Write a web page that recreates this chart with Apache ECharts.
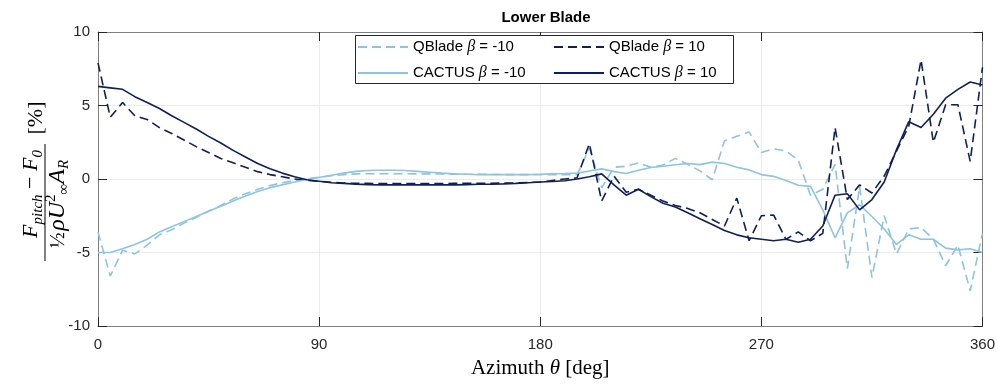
<!DOCTYPE html>
<html>
<head>
<meta charset="utf-8">
<script src="https://cdn.jsdelivr.net/npm/echarts@6/dist/echarts.min.js"></script>
<style>html,body{margin:0;padding:0;background:#fff;}#c{width:998px;height:384px;}</style>
</head>
<body>
<div id="c"></div>
<script>
var azimuth = [0,5,10,15,20,25,30,35,40,45,50,55,60,65,70,75,80,85,90,95,100,105,110,115,120,125,130,135,140,145,150,155,160,165,170,175,180,185,190,195,200,205,210,215,220,225,230,235,240,245,250,255,260,265,270,275,280,285,290,295,300,305,310,315,320,325,330,335,340,345,350,355,360];

var qbladeNeg10 = [-3.6,-6.6,-4.85,-5.1,-4.5,-3.8,-3.45,-3.0,-2.6,-2.2,-1.8,-1.35,-1.0,-0.7,-0.45,-0.25,-0.1,0.02,0.12,0.22,0.3,0.35,0.36,0.36,0.36,0.36,0.35,0.35,0.34,0.33,0.32,0.32,0.31,0.3,0.3,0.3,0.3,0.3,0.3,0.3,2.1,-0.6,0.8,0.87,1.1,0.8,0.95,1.4,1.0,0.55,-0.05,2.6,2.9,3.2,1.8,2.05,1.9,1.3,-1.1,-0.7,1.0,-6.1,-0.5,-6.7,-2.5,-5.1,-3.4,-3.3,-4.1,-5.9,-4.5,-7.6,-3.7];

var qblade10 = [7.9,4.2,5.2,4.3,4.05,3.5,3.1,2.65,2.2,1.8,1.4,1.1,0.8,0.5,0.3,0.15,0.0,-0.1,-0.15,-0.22,-0.27,-0.3,-0.3,-0.31,-0.31,-0.31,-0.31,-0.31,-0.31,-0.3,-0.3,-0.3,-0.29,-0.28,-0.27,-0.24,-0.2,-0.1,0.0,0.08,2.4,-1.5,0.2,-0.9,-0.7,-1.1,-1.5,-1.8,-2.0,-2.3,-2.75,-3.2,-1.3,-4.2,-2.5,-2.45,-4.1,-3.6,-4.2,-3.7,3.5,-1.4,-0.4,-0.95,0.2,1.9,3.6,8.1,2.5,5.05,5.05,1.2,7.6];

var cactusNeg10 = [-5.0,-5.0,-4.75,-4.45,-4.1,-3.6,-3.25,-2.9,-2.55,-2.2,-1.85,-1.5,-1.15,-0.85,-0.6,-0.4,-0.2,-0.03,0.1,0.25,0.4,0.52,0.58,0.6,0.6,0.58,0.52,0.46,0.4,0.35,0.32,0.3,0.3,0.3,0.3,0.3,0.32,0.35,0.37,0.4,0.55,0.69,0.5,0.37,0.6,0.78,0.87,0.97,1.05,0.98,1.15,1.05,0.8,0.62,0.3,0.18,-0.1,-0.42,-0.5,-2.1,-4.0,-2.3,-1.75,-2.55,-3.4,-4.45,-3.8,-4.1,-4.1,-4.7,-4.82,-4.75,-5.0];

var cactus10 = [6.3,6.2,6.1,5.6,5.2,4.8,4.3,3.85,3.4,2.9,2.45,1.95,1.5,1.05,0.7,0.4,0.15,-0.05,-0.15,-0.25,-0.3,-0.35,-0.38,-0.4,-0.4,-0.4,-0.4,-0.4,-0.4,-0.4,-0.38,-0.36,-0.35,-0.33,-0.3,-0.25,-0.2,-0.17,-0.12,0.0,0.15,0.35,-0.4,-1.1,-0.7,-1.2,-1.65,-1.9,-2.3,-2.7,-3.1,-3.5,-3.8,-4.0,-4.1,-4.2,-4.1,-4.3,-4.1,-3.2,-1.1,-1.0,-2.1,-1.4,-0.2,2.0,3.9,3.5,4.4,5.5,6.1,6.6,6.4];

var xTicks = [0, 90, 180, 270, 360];
var yTicks = [-10, -5, 0, 5, 10];

var seriesNames = ['QBlade β = -10', 'QBlade β = 10', 'CACTUS β = -10', 'CACTUS β = 10'];
var LIGHT = '#8cc4e2', DARK = '#0f1f5a';

function pairs(vals) {
  return azimuth.map(function (a, i) { return [a, vals[i]]; });
}

var chart = echarts.init(document.getElementById('c'), null, {renderer: 'canvas'});

var tickFont = {fontFamily: 'Liberation Sans, Arial, sans-serif', fontSize: 15, color: '#262626'};
var legendText = {
  fontFamily: 'Liberation Sans, Arial, sans-serif', fontSize: 15, color: '#000',
  rich: {b: {fontFamily: 'Liberation Serif, serif', fontStyle: 'italic', fontSize: 16, color: '#000'}}
};
function legendFmt(name) { return name.replace('β', '{b|β}'); }

function frameAxis(extra) {
  return Object.assign({
    axisLine: {show: true, onZero: false, lineStyle: {color: '#808080', width: 1}},
    axisTick: {show: true, inside: true, length: 9, lineStyle: {color: '#262626'}}
  }, extra);
}

var SERIF = 'Liberation Serif, serif';

var option = {
  animation: false,
  backgroundColor: '#fff',
  title: {
    text: 'Lower Blade', left: 541, top: 5, textAlign: 'center',
    textStyle: {fontFamily: 'Liberation Sans, Arial, sans-serif', fontSize: 15, fontWeight: 'bold', color: '#000'}
  },
  grid: {left: 98, right: 13, top: 32, bottom: 57, containLabel: false},
  legend: [
    {
      data: [seriesNames[0], seriesNames[2]], orient: 'vertical', left: 357, top: 39,
      itemWidth: 50, itemHeight: 12, itemGap: 10, padding: 0, z: 20,
      itemStyle: {opacity: 0},
      formatter: legendFmt, textStyle: legendText
    },
    {
      data: [seriesNames[1], seriesNames[3]], orient: 'vertical', left: 553, top: 39,
      itemWidth: 50, itemHeight: 12, itemGap: 10, padding: 0, z: 20,
      itemStyle: {opacity: 0},
      formatter: legendFmt, textStyle: legendText
    }
  ],
  xAxis: [
    frameAxis({
      type: 'value', min: 0, max: 360, interval: 90, position: 'bottom',
      axisLabel: Object.assign({margin: 11, formatter: function (v) { return xTicks.indexOf(v) >= 0 ? String(v) : ''; }}, tickFont),
      splitLine: {show: true, lineStyle: {color: '#ebebeb', width: 1}},
      name: '{t|Azimuth }{i|θ}{t| [deg]}', nameLocation: 'middle', nameGap: 32,
      nameTextStyle: {
        rich: {
          t: {fontFamily: SERIF, fontSize: 21, color: '#000'},
          i: {fontFamily: SERIF, fontStyle: 'italic', fontSize: 21, color: '#000'}
        }
      }
    }),
    frameAxis({
      type: 'value', min: 0, max: 360, interval: 90, position: 'top',
      axisLabel: {show: false}, splitLine: {show: false}
    })
  ],
  yAxis: [
    frameAxis({
      type: 'value', min: -10, max: 10, interval: 5, position: 'left',
      axisLabel: Object.assign({margin: 8, formatter: function (v) { return yTicks.indexOf(v) >= 0 ? String(v) : ''; }}, tickFont),
      splitLine: {show: true, lineStyle: {color: '#ebebeb', width: 1}}
    }),
    frameAxis({
      type: 'value', min: -10, max: 10, interval: 5, position: 'right',
      axisLabel: {show: false}, splitLine: {show: false}
    })
  ],
  graphic: [
    {
      type: 'rect', left: 355, top: 35, z: 10,
      shape: {width: 378, height: 48},
      style: {fill: '#fff', stroke: '#262626', lineWidth: 1}
    },
    {
      type: 'group', x: 45, y: 203, rotation: Math.PI / 2, z: 10,
      children: [
        {
          type: 'text', x: 9, y: -12,
          style: {
            text: '{i|F}{s|pitch}{t| − }{i|F}{s|0}',
            align: 'center', verticalAlign: 'middle',
            rich: {
              i: {fontFamily: SERIF, fontStyle: 'italic', fontSize: 22, color: '#000', lineHeight: 26, verticalAlign: 'top'},
              s: {fontFamily: SERIF, fontStyle: 'italic', fontSize: 15, color: '#000', lineHeight: 26, verticalAlign: 'bottom'},
              t: {fontFamily: SERIF, fontSize: 22, color: '#000', lineHeight: 26, verticalAlign: 'top'}
            }
          }
        },
        {
          type: 'line', shape: {x1: -58, y1: 0, x2: 59, y2: 0},
          style: {stroke: '#000', lineWidth: 1}
        },
        {
          type: 'text', x: -1, y: 13,
          style: {
            text: '{f|½}{g| }{i|ρU}{p|2}{s|∞}{i|A}{s|R}',
            align: 'center', verticalAlign: 'middle',
            rich: {
              f: {fontFamily: SERIF, fontSize: 21, color: '#000', lineHeight: 28, verticalAlign: 'middle'},
              g: {fontFamily: SERIF, fontSize: 6, color: '#000', lineHeight: 28},
              i: {fontFamily: SERIF, fontStyle: 'italic', fontSize: 24, color: '#000', lineHeight: 28, verticalAlign: 'middle'},
              p: {fontFamily: SERIF, fontSize: 15, color: '#000', lineHeight: 28, verticalAlign: 'top'},
              s: {fontFamily: SERIF, fontStyle: 'italic', fontSize: 15, color: '#000', lineHeight: 28, verticalAlign: 'bottom'}
            }
          }
        },
        {
          type: 'text', x: 85, y: -9,
          style: {
            text: '[%]', align: 'center', verticalAlign: 'middle',
            fontFamily: SERIF, fontSize: 22, fill: '#000'
          }
        }
      ]
    }
  ],
  series: [
    {
      name: seriesNames[0], type: 'line', data: pairs(qbladeNeg10), symbol: 'none', z: 3,
      lineStyle: {color: LIGHT, width: 1.6, type: [9, 5]}, itemStyle: {color: LIGHT}
    },
    {
      name: seriesNames[1], type: 'line', data: pairs(qblade10), symbol: 'none', z: 3,
      lineStyle: {color: DARK, width: 1.6, type: [9, 5]}, itemStyle: {color: DARK}
    },
    {
      name: seriesNames[2], type: 'line', data: pairs(cactusNeg10), symbol: 'none', z: 3,
      lineStyle: {color: LIGHT, width: 1.6, type: 'solid'}, itemStyle: {color: LIGHT}
    },
    {
      name: seriesNames[3], type: 'line', data: pairs(cactus10), symbol: 'none', z: 3,
      lineStyle: {color: DARK, width: 1.6, type: 'solid'}, itemStyle: {color: DARK}
    }
  ]
};
chart.setOption(option);
</script>
</body>
</html>
